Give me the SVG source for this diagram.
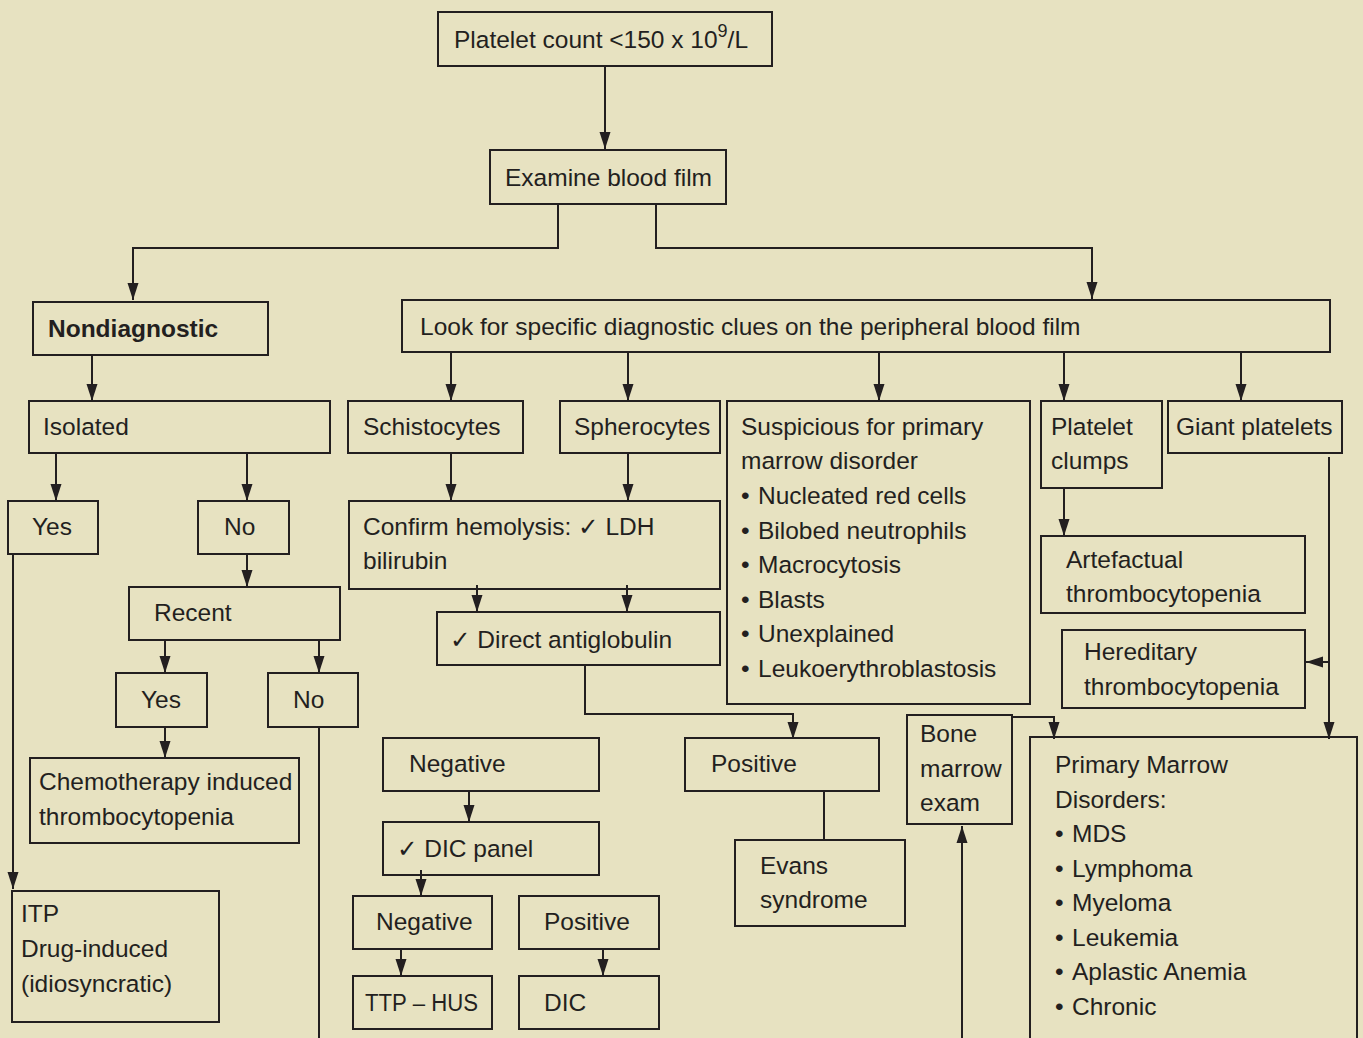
<svg xmlns="http://www.w3.org/2000/svg" width="1363" height="1038" viewBox="0 0 1363 1038">
<style>
.bx{fill:none;stroke:#231f20;stroke-width:2}
.ln{fill:none;stroke:#231f20;stroke-width:2}
.ar{marker-end:url(#ah)}
text{font-family:"Liberation Sans",Arial,"DejaVu Sans",sans-serif;font-size:24.5px;fill:#231f20}
.b{font-weight:bold}
</style>
<defs>
<marker id="ah" markerUnits="userSpaceOnUse" markerWidth="18" markerHeight="14" viewBox="0 0 18 14" refX="17" refY="7" orient="auto">
<path d="M0,1.5 L17,7 L0,12.5 Z" fill="#231f20"/>
</marker>
</defs>
<rect width="1363" height="1038" fill="#e7e2c1"/>

<g id="connectors">
<path class="ln ar" d="M605,66 V149"/>
<path class="ln ar" d="M558,204 V248 H133 V300"/>
<path class="ln ar" d="M656,204 V248 H1092 V299"/>
<path class="ln ar" d="M92,355 V401"/>
<path class="ln ar" d="M451,352 V401"/>
<path class="ln ar" d="M628,352 V401"/>
<path class="ln ar" d="M879,352 V401"/>
<path class="ln ar" d="M1064,352 V401"/>
<path class="ln ar" d="M1241,352 V401"/>
<path class="ln ar" d="M56,453 V501"/>
<path class="ln ar" d="M247,453 V501"/>
<path class="ln ar" d="M451,453 V501"/>
<path class="ln ar" d="M628,453 V501"/>
<path class="ln ar" d="M477,585 V612"/>
<path class="ln ar" d="M627,585 V612"/>
<path class="ln ar" d="M585,665 V714 H793 V739"/>
<path class="ln" d="M824,791 V840"/>
<path class="ln ar" d="M469,791 V822"/>
<path class="ln ar" d="M421,870 V896"/>
<path class="ln ar" d="M401,949 V976"/>
<path class="ln ar" d="M603,949 V976"/>
<path class="ln ar" d="M247,554 V587"/>
<path class="ln ar" d="M165,640 V673"/>
<path class="ln ar" d="M319,640 V673"/>
<path class="ln ar" d="M165,727 V758"/>
<path class="ln" d="M319,727 V1038"/>
<path class="ln ar" d="M13,554 V889"/>
<path class="ln ar" d="M1064,488 V536"/>
<path class="ln ar" d="M1329,457 V739"/>
<path class="ln ar" d="M1329,662 H1306"/>
<path class="ln ar" d="M1012,717 H1054 V739"/>
<path class="ln ar" d="M962,1038 V826"/>
</g>

<g id="n-platelet-count"><rect class="bx" x="438" y="12" width="334" height="54"/><text x="454" y="48">Platelet count &lt;150 x 10<tspan dy="-11" font-size="18">9</tspan><tspan dy="11">/L</tspan></text></g>
<g id="n-examine"><rect class="bx" x="490" y="150" width="236" height="54"/><text x="505" y="186">Examine blood film</text></g>
<g id="n-nondiagnostic"><rect class="bx" x="33" y="302" width="235" height="53"/><text class="b" x="48" y="337">Nondiagnostic</text></g>
<g id="n-lookfor"><rect class="bx" x="402" y="300" width="928" height="52"/><text x="420" y="335">Look for specific diagnostic clues on the peripheral blood film</text></g>
<g id="n-isolated"><rect class="bx" x="29" y="401" width="301" height="52"/><text x="43" y="435">Isolated</text></g>
<g id="n-schistocytes"><rect class="bx" x="348" y="401" width="175" height="52"/><text x="363" y="435">Schistocytes</text></g>
<g id="n-spherocytes"><rect class="bx" x="560" y="401" width="160" height="52"/><text x="574" y="435">Spherocytes</text></g>
<g id="n-suspicious"><rect class="bx" x="727" y="401" width="303" height="303"/>
<text x="741" y="435">Suspicious for primary</text>
<text x="741" y="469">marrow disorder</text>
<text x="741" y="504">• <tspan x="758">Nucleated red cells</tspan></text>
<text x="741" y="539">• <tspan x="758">Bilobed neutrophils</tspan></text>
<text x="741" y="573">• <tspan x="758">Macrocytosis</tspan></text>
<text x="741" y="608">• <tspan x="758">Blasts</tspan></text>
<text x="741" y="642">• <tspan x="758">Unexplained</tspan></text>
<text x="741" y="677">• <tspan x="758">Leukoerythroblastosis</tspan></text>
</g>
<g id="n-clumps"><rect class="bx" x="1041" y="401" width="121" height="87"/><text x="1051" y="435">Platelet</text><text x="1051" y="469">clumps</text></g>
<g id="n-giant"><rect class="bx" x="1168" y="401" width="174" height="52"/><text x="1176" y="435">Giant platelets</text></g>
<g id="n-yes1"><rect class="bx" x="8" y="501" width="90" height="53"/><text x="32" y="535">Yes</text></g>
<g id="n-no1"><rect class="bx" x="198" y="501" width="91" height="53"/><text x="224" y="535">No</text></g>
<g id="n-confirm"><rect class="bx" x="349" y="501" width="371" height="88"/><text x="363" y="535">Confirm hemolysis: ✓ LDH</text><text x="363" y="569">bilirubin</text></g>
<g id="n-recent"><rect class="bx" x="129" y="587" width="211" height="53"/><text x="154" y="621">Recent</text></g>
<g id="n-dat"><rect class="bx" x="437" y="612" width="283" height="53"/><text x="450" y="648">✓ Direct antiglobulin</text></g>
<g id="n-artefactual"><rect class="bx" x="1041" y="536" width="264" height="77"/><text x="1066" y="568">Artefactual</text><text x="1066" y="602">thrombocytopenia</text></g>
<g id="n-hereditary"><rect class="bx" x="1062" y="630" width="243" height="78"/><text x="1084" y="660">Hereditary</text><text x="1084" y="695">thrombocytopenia</text></g>
<g id="n-yes2"><rect class="bx" x="116" y="673" width="91" height="54"/><text x="141" y="708">Yes</text></g>
<g id="n-no2"><rect class="bx" x="268" y="673" width="90" height="54"/><text x="293" y="708">No</text></g>
<g id="n-bonemarrow"><rect class="bx" x="907" y="715" width="105" height="109"/><text x="920" y="742">Bone</text><text x="920" y="777">marrow</text><text x="920" y="811">exam</text></g>
<g id="n-positive1"><rect class="bx" x="685" y="738" width="194" height="53"/><text x="711" y="772">Positive</text></g>
<g id="n-negative1"><rect class="bx" x="383" y="738" width="216" height="53"/><text x="409" y="772">Negative</text></g>
<g id="n-primary"><rect class="bx" x="1030" y="737" width="327" height="310"/>
<text x="1055" y="773">Primary Marrow</text>
<text x="1055" y="808">Disorders:</text>
<text x="1055" y="842">• <tspan x="1072">MDS</tspan></text>
<text x="1055" y="877">• <tspan x="1072">Lymphoma</tspan></text>
<text x="1055" y="911">• <tspan x="1072">Myeloma</tspan></text>
<text x="1055" y="946">• <tspan x="1072">Leukemia</tspan></text>
<text x="1055" y="980">• <tspan x="1072">Aplastic Anemia</tspan></text>
<text x="1055" y="1015">• <tspan x="1072">Chronic</tspan></text>
</g>
<g id="n-chemo"><rect class="bx" x="30" y="758" width="269" height="85"/><text x="39" y="790">Chemotherapy induced</text><text x="39" y="825">thrombocytopenia</text></g>
<g id="n-dicpanel"><rect class="bx" x="383" y="822" width="216" height="53"/><text x="397" y="857">✓ DIC panel</text></g>
<g id="n-evans"><rect class="bx" x="735" y="840" width="170" height="86"/><text x="760" y="874">Evans</text><text x="760" y="908">syndrome</text></g>
<g id="n-itp"><rect class="bx" x="12" y="891" width="207" height="131"/><text x="21" y="922">ITP</text><text x="21" y="957">Drug-induced</text><text x="21" y="992">(idiosyncratic)</text></g>
<g id="n-negative2"><rect class="bx" x="353" y="896" width="139" height="53"/><text x="376" y="930">Negative</text></g>
<g id="n-positive2"><rect class="bx" x="519" y="896" width="140" height="53"/><text x="544" y="930">Positive</text></g>
<g id="n-ttp"><rect class="bx" x="353" y="976" width="139" height="53"/><text x="365" y="1011" textLength="113" lengthAdjust="spacingAndGlyphs">TTP – HUS</text></g>
<g id="n-dic"><rect class="bx" x="519" y="976" width="140" height="53"/><text x="544" y="1011">DIC</text></g>
</svg>
